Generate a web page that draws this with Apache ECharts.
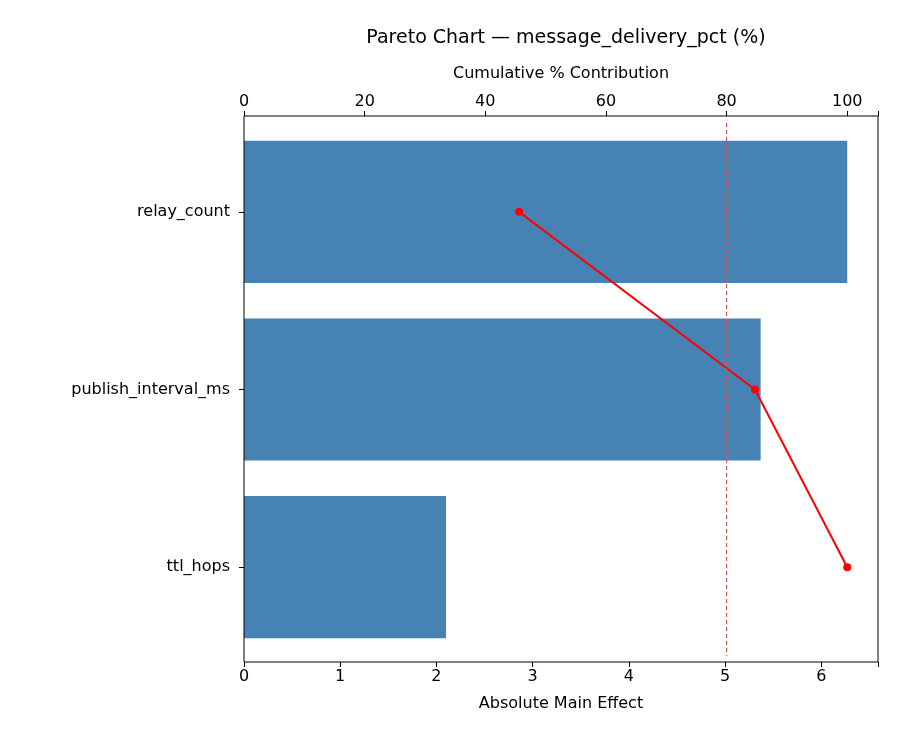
<!DOCTYPE html>
<html><head><meta charset="utf-8">
<script src="https://cdn.jsdelivr.net/npm/echarts@6/dist/echarts.min.js"></script>
<style>html,body{margin:0;padding:0;background:#fff}#c{width:900px;height:750px}</style>
</head><body><div id="c"></div>
<script>
const categories = ["relay_count", "publish_interval_ms", "ttl_hops"];
const effects = [6.27, 5.37, 2.10];
const cumulativePct = [45.6, 84.7, 100];
const threshold = 80;
const font = "DejaVu Sans";
const chart = echarts.init(document.getElementById('c'));
chart.setOption({
  animation: false,
  textStyle: {fontFamily: font},
  title: {text: "Pareto Chart — message_delivery_pct (%)", left: 561, textAlign: 'center', top: 24,
    textStyle: {fontSize: 19, fontWeight: 'normal', color: '#000', fontFamily: font}},
  grid: {left: 244, right: 22, top: 123, bottom: 94},
  graphic: [{type: 'rect', shape: {x: 244, y: 116, width: 634, height: 546}, z: 100,
    style: {fill: 'none', stroke: '#000', lineWidth: 1}}],
  xAxis: [
    {type: 'value', min: 0, max: 6.59, interval: 1, position: 'bottom', offset: 6,
     name: 'Absolute Main Effect', nameLocation: 'middle', nameGap: 34,
     nameTextStyle: {fontSize: 16, color: '#000'},
     axisLine: {show: false}, axisTick: {show: true, length: 5, lineStyle: {color: '#000'}},
     axisLabel: {fontSize: 16, color: '#000', margin: 7, formatter: v => Number.isInteger(v) ? v : ''},
     splitLine: {show: false}},
    {type: 'value', min: 0, max: 105.1, interval: 20, position: 'top', offset: 7,
     name: 'Cumulative % Contribution', nameLocation: 'middle', nameGap: 34,
     nameTextStyle: {fontSize: 16, color: '#000'},
     axisLine: {show: false}, axisTick: {show: true, length: 5, lineStyle: {color: '#000'}},
     axisLabel: {fontSize: 16, color: '#000', margin: 6, formatter: v => v % 20 === 0 ? v : ''},
     splitLine: {show: false}}
  ],
  yAxis: [
    {type: 'category', data: categories, inverse: true,
     axisLine: {show: false}, axisTick: {show: true, alignWithLabel: true, length: 5, lineStyle: {color: '#000'}},
     axisLabel: {fontSize: 16, color: '#000', margin: 14}}
  ],
  series: [
    {type: 'bar', data: effects, xAxisIndex: 0, yAxisIndex: 0, barCategoryGap: '20%',
     itemStyle: {color: '#4682b4'}},
    {type: 'line', xAxisIndex: 1, yAxisIndex: 0,
     data: cumulativePct.map((v, i) => [v, categories[i]]),
     symbol: 'circle', symbolSize: 8, itemStyle: {color: '#ff0000'}, lineStyle: {color: '#ff0000', width: 2},
     markLine: {silent: true, symbol: 'none', label: {show: false},
       lineStyle: {color: '#e05050', type: [4, 3], width: 1}, data: [{xAxis: threshold}]}}
  ]
});
</script></body></html>
